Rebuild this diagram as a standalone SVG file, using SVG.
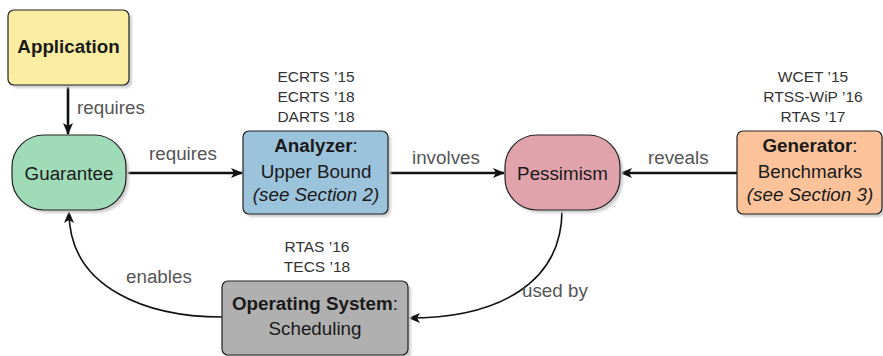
<svg xmlns="http://www.w3.org/2000/svg" width="883" height="356" viewBox="0 0 883 356">
<defs>
<filter id="sh" x="-10%" y="-10%" width="130%" height="130%"><feGaussianBlur stdDeviation="0.8"/></filter>
<marker id="ah" viewBox="0 0 12 10" refX="11" refY="5" markerWidth="12" markerHeight="10" markerUnits="userSpaceOnUse" orient="auto"><path d="M0,0 L12,5 L0,10 L3,5 Z" fill="#111"/></marker>
</defs>
<style>
.node{stroke:#222;stroke-width:1.2}
.shadow{fill:#cfcfcf;filter:url(#sh)}
text{font-family:"Liberation Sans",Arial,sans-serif;font-size:18.8px;fill:#1a1a1a;text-anchor:middle}
.b{font-weight:bold}
.i{font-style:italic}
.cite{font-size:15.5px;fill:#333}
.lbl{fill:#555;text-anchor:start}
.conn{fill:none;stroke:#111}
.thick{stroke-width:2.6}
.thin{stroke-width:1.6}
</style>
<g id="connectors">
<line class="conn thick" x1="68" y1="85" x2="68" y2="134" marker-end="url(#ah)"/>
<line class="conn thick" x1="126" y1="173" x2="242" y2="173" marker-end="url(#ah)"/>
<line class="conn thick" x1="388" y1="173" x2="504" y2="173" marker-end="url(#ah)"/>
<line class="conn thick" x1="737" y1="173" x2="621" y2="173" marker-end="url(#ah)"/>
<path class="conn thin" d="M222,317 C150,317 69,290 69,212" marker-end="url(#ah)"/>
<path class="conn thin" d="M562,210 C562,282 500,318 409,318" marker-end="url(#ah)"/>
<text class="lbl" x="77" y="114">requires</text>
<text class="lbl" x="149" y="160">requires</text>
<text class="lbl" x="412" y="164">involves</text>
<text class="lbl" x="648" y="164">reveals</text>
<text class="lbl" x="126" y="283">enables</text>
<text class="lbl" x="522" y="297">used by</text>
</g>
<g id="application">
<rect class="shadow" x="11" y="13" width="121" height="75" rx="6"/>
<rect class="node" x="8" y="10" width="121" height="75" rx="6" fill="#fbeea3"/>
<text class="b" x="68.5" y="53">Application</text>
</g>
<g id="guarantee">
<rect class="shadow" x="15" y="138" width="114" height="75" rx="32"/>
<rect class="node" x="12" y="135" width="114" height="75" rx="32" fill="#a0dbb8"/>
<text x="69" y="180">Guarantee</text>
</g>
<g id="analyzer">
<text class="cite" x="316" y="82">ECRTS ’15</text>
<text class="cite" x="316" y="102">ECRTS ’18</text>
<text class="cite" x="316" y="122">DARTS ’18</text>
<rect class="shadow" x="246" y="134" width="145" height="83" rx="6"/>
<rect class="node" x="243" y="131" width="145" height="83" rx="6" fill="#9cc3dc"/>
<text x="316" y="152"><tspan class="b">Analyzer</tspan>:</text>
<text x="316" y="178">Upper Bound</text>
<text class="i" x="316" y="201">(see Section 2)</text>
</g>
<g id="pessimism">
<rect class="shadow" x="508" y="138" width="115" height="75" rx="32"/>
<rect class="node" x="505" y="135" width="115" height="75" rx="32" fill="#e0a3ab"/>
<text x="562.5" y="180">Pessimism</text>
</g>
<g id="generator">
<text class="cite" x="813" y="82">WCET ’15</text>
<text class="cite" x="813" y="102">RTSS-WiP ’16</text>
<text class="cite" x="813" y="122">RTAS ’17</text>
<rect class="shadow" x="740" y="134" width="145" height="83" rx="6"/>
<rect class="node" x="737" y="131" width="145" height="83" rx="6" fill="#fcc39a"/>
<text x="810" y="152"><tspan class="b">Generator</tspan>:</text>
<text x="810" y="178">Benchmarks</text>
<text class="i" x="810" y="201">(see Section 3)</text>
</g>
<g id="os">
<text class="cite" x="317" y="252">RTAS ’16</text>
<text class="cite" x="317" y="272">TECS ’18</text>
<rect class="shadow" x="225" y="284" width="186" height="75" rx="6"/>
<rect class="node" x="222" y="281" width="186" height="74" rx="6" fill="#b0b0b0"/>
<text x="315" y="310"><tspan class="b">Operating System</tspan>:</text>
<text x="315" y="335">Scheduling</text>
</g>
</svg>
